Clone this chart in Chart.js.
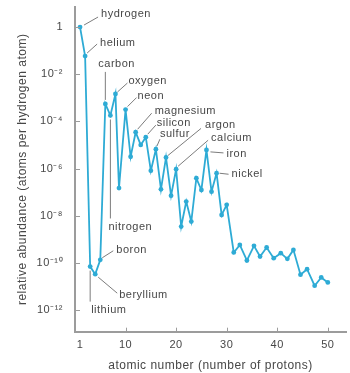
<!DOCTYPE html>
<html>
<head>
<meta charset="utf-8">
<script src="https://cdn.jsdelivr.net/npm/chart.js@4.4.0/dist/chart.umd.min.js"></script>
<style>
  html, body { margin: 0; padding: 0; background: #fff; overflow: hidden; }
</style>
</head>
<body>
<canvas id="abundance" width="350" height="373"></canvas>
<script>
// atomic number of each plotted point
const atomicNumber = [1, 2, 3, 4, 5, 6, 7, 8, 8.7, 10,
  11, 12, 13, 14, 15, 16, 17, 18, 19, 20,
  21, 22, 23, 24, 25, 26, 27, 28, 29, 30,
  31.4, 32.6, 34, 35.4, 36.6, 37.9, 39.3, 40.7, 42, 43.2,
  44.6, 45.9, 47.4, 48.7, 50];
// relative abundance, as power of ten (atoms per hydrogen atom)
const logAbundance = [0, -1.23, -10.16, -10.48, -9.87, -3.26, -3.75, -2.84, -6.83, -3.5,
  -5.5, -4.46, -5.0, -4.67, -6.09, -5.18, -6.88, -5.53, -7.15, -6.03,
  -8.46, -7.4, -8.25, -6.41, -6.91, -5.21, -6.98, -6.2, -7.97, -7.54,
  -9.56, -9.24, -9.9, -9.28, -9.73, -9.35, -9.8, -9.59, -9.83, -9.45,
  -10.5, -10.27, -10.97, -10.62, -10.83];
const xTickValues = [1, 10, 20, 30, 40, 50];
const yTickExponents = [0, -2, -4, -6, -8, -10, -12];

// element names and which point they belong to
const labelNames = ['hydrogen', 'helium', 'lithium', 'beryllium', 'boron', 'carbon', 'nitrogen',
  'oxygen', 'neon', 'magnesium', 'silicon', 'sulfur', 'argon', 'calcium', 'iron', 'nickel'];
const labelPoint = [0, 1, 2, 3, 4, 5, 6, 7, 9, 11, 13, 15, 17, 19, 25, 27];

// where each name sits relative to its point: text dx,dy and leader line
const callouts = [
  { dx: 21, dy: -13, line: [4, -2, 18, -10] },
  { dx: 15, dy: -13, line: [2, -3, 12, -12] },
  { dx: 1, dy: 43, line: [0, 4, 0, 35] },
  { dx: 24, dy: 21, line: [3, 3, 22, 19] },
  { dx: 16, dy: -10, line: [2, -2, 13, -9] },
  { dx: -7, dy: -40, line: [0, -4, 0, -32] },
  { dx: -2, dy: 111, line: [0, 4, 0, 103] },
  { dx: 13, dy: -13, line: [2, -2, 12, -11] },
  { dx: 12, dy: -14, line: [2, -3, 11, -12] },
  { dx: 19, dy: -21, line: [2, -3, 16, -19] },
  { dx: 11, dy: -14, line: [2, -3, 10, -12] },
  { dx: 4, dy: -15, line: [1, -3, 4, -10] },
  { dx: 39, dy: -32, line: [2, -2, 35, -29] },
  { dx: 35, dy: -31, line: [2, -3, 32, -29] },
  { dx: 20, dy: 4, line: [4, 2, 17, 3] },
  { dx: 15, dy: 1, line: [3, 0, 12, 1] }
];

const lineColor = '#2eabd5';
const axisColor = '#9c9c9c';
const textColor = '#474747';

const points = atomicNumber.map((z, i) => ({ x: z, y: Math.pow(10, logAbundance[i]) }));

const sup = { '-': '\u207B', '0': '\u2070', '1': '\u00B9', '2': '\u00B2', '3': '\u00B3', '4': '\u2074',
  '5': '\u2075', '6': '\u2076', '7': '\u2077', '8': '\u2078', '9': '\u2079' };

const spacing = {
  id: 'spacing',
  beforeDraw(chart) { chart.ctx.letterSpacing = '0.5px'; }
};

const innerTicks = {
  id: 'innerTicks',
  afterDraw(chart) {
    const ctx = chart.ctx;
    const xs = chart.scales.x, ys = chart.scales.y;
    ctx.save();
    ctx.strokeStyle = axisColor;
    ctx.lineWidth = 1;
    ctx.beginPath();
    xTickValues.forEach(v => {
      if (v === 1) return;
      const px = Math.round(xs.getPixelForValue(v)) + 0.5;
      ctx.moveTo(px, xs.top);
      ctx.lineTo(px, xs.top - 4);
    });
    yTickExponents.forEach(e => {
      const py = Math.round(ys.getPixelForValue(Math.pow(10, e))) + 0.5;
      ctx.moveTo(ys.right, py);
      ctx.lineTo(ys.right + 5, py);
    });
    ctx.stroke();
    ctx.restore();
  }
};

const nameTags = {
  id: 'nameTags',
  afterDatasetsDraw(chart) {
    const ctx = chart.ctx;
    const meta = chart.getDatasetMeta(0);
    ctx.save();
    ctx.font = '11px "Liberation Sans", Arial, sans-serif';
    ctx.letterSpacing = '0.5px';
    ctx.fillStyle = textColor;
    ctx.strokeStyle = '#5a5a5a';
    ctx.lineWidth = 0.8;
    ctx.textAlign = 'left';
    ctx.textBaseline = 'middle';
    labelNames.forEach((name, i) => {
      const pt = meta.data[labelPoint[i]];
      const c = callouts[i];
      ctx.beginPath();
      ctx.moveTo(pt.x + c.line[0], pt.y + c.line[1]);
      ctx.lineTo(pt.x + c.line[2], pt.y + c.line[3]);
      ctx.stroke();
      ctx.fillText(name, pt.x + c.dx, pt.y + c.dy);
    });
    ctx.restore();
  }
};

new Chart(document.getElementById('abundance'), {
  type: 'line',
  data: {
    datasets: [{
      data: points,
      borderColor: lineColor,
      backgroundColor: lineColor,
      borderWidth: 1.8,
      pointRadius: 2.4,
      pointBorderWidth: 0,
      pointBackgroundColor: lineColor,
      tension: 0,
      clip: false
    }]
  },
  options: {
    responsive: false,
    animation: false,
    devicePixelRatio: 1,
    layout: { padding: { top: 7, right: 0, left: 0, bottom: 0 } },
    plugins: { legend: { display: false }, tooltip: { enabled: false } },
    scales: {
      x: {
        type: 'linear',
        min: 0,
        max: 53.6,
        afterBuildTicks: scale => { scale.ticks = xTickValues.map(v => ({ value: v })); },
        afterFit: scale => {
          scale.height = 41.3;
          scale.paddingLeft = 0;
          scale.paddingRight = 0;
        },
        grid: { display: false, drawTicks: false },
        border: { color: axisColor, width: 2 },
        ticks: {
          padding: 7,
          color: textColor,
          font: { family: '"Liberation Sans", Arial, sans-serif', size: 11 },
          maxRotation: 0
        },
        title: {
          display: true,
          text: 'atomic number (number of protons)',
          color: textColor,
          font: { family: '"Liberation Sans", Arial, sans-serif', size: 12 },
          padding: { top: 0, bottom: 0 }
        }
      },
      y: {
        type: 'logarithmic',
        min: Math.pow(10, -12.92),
        max: Math.pow(10, 0.85),
        afterBuildTicks: scale => { scale.ticks = yTickExponents.map(e => ({ value: Math.pow(10, e) })); },
        afterFit: scale => {
          scale.width = 75;
          scale.paddingTop = 0;
          scale.paddingBottom = 0;
        },
        grid: { display: false, drawTicks: false },
        border: { color: axisColor, width: 2 },
        ticks: {
          padding: 12,
          color: textColor,
          font: { family: '"Liberation Sans", Arial, sans-serif', size: 11 },
          callback: v => {
            const e = Math.round(Math.log10(v));
            if (e === 0) return '1';
            return '10' + String(e).split('').map(ch => sup[ch]).join('');
          }
        },
        title: {
          display: true,
          text: 'relative abundance (atoms per hydrogen atom)',
          color: textColor,
          font: { family: '"Liberation Sans", Arial, sans-serif', size: 12 },
          padding: { top: 15, bottom: 0 }
        }
      }
    }
  },
  plugins: [spacing, innerTicks, nameTags]
});
</script>
</body>
</html>
